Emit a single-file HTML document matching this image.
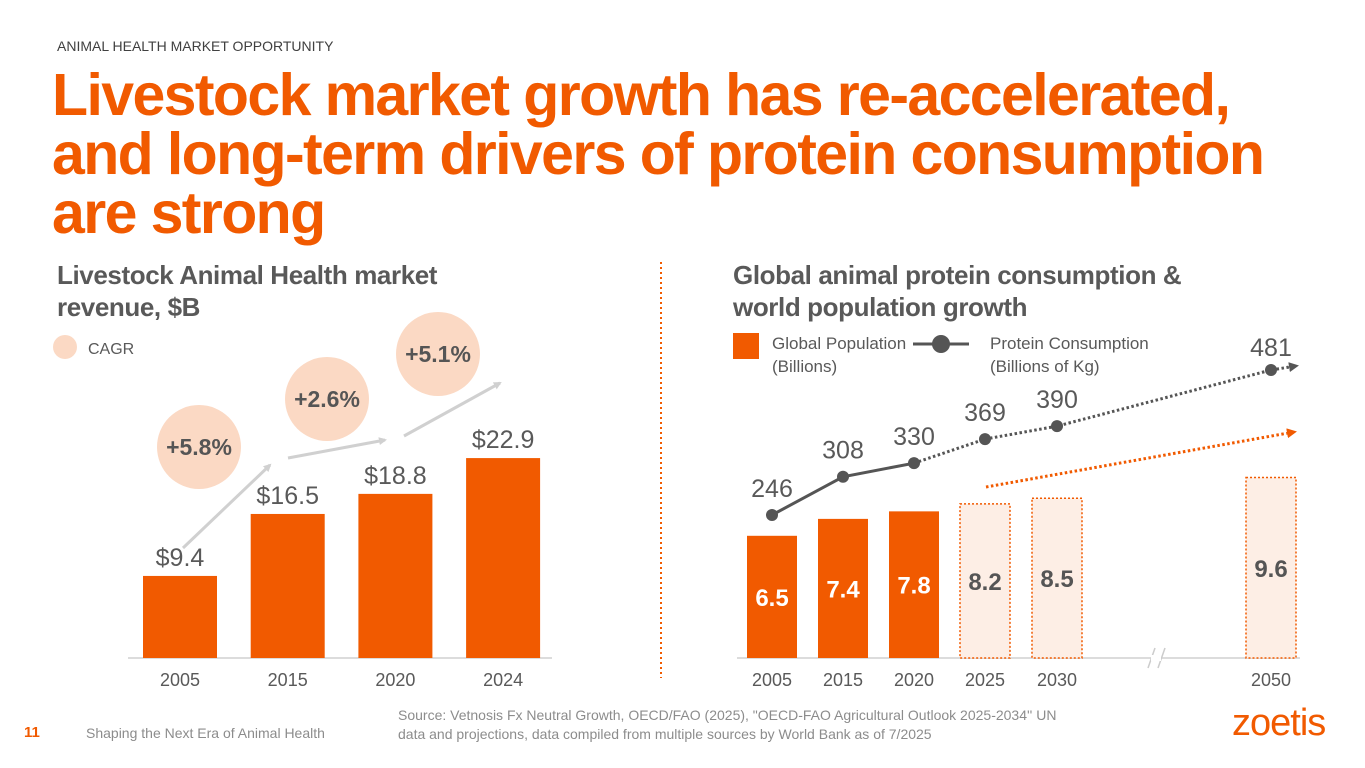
<!DOCTYPE html>
<html><head><meta charset="utf-8">
<style>
body{margin:0;width:1365px;height:768px;background:#fff;font-family:"Liberation Sans",Arial,sans-serif;position:relative;overflow:hidden}
.abs{position:absolute;white-space:nowrap}
#title{left:52px;top:66px;font-size:59px;font-weight:bold;color:#f15a00;line-height:59px;letter-spacing:-1.6px}
.sub{font-size:26px;font-weight:bold;color:#595959;line-height:32px;letter-spacing:-0.4px}
svg text{font-family:"Liberation Sans",Arial,sans-serif}
</style></head><body>
<div class="abs" style="left:57px;top:38px;font-size:14px;color:#404040">ANIMAL HEALTH MARKET OPPORTUNITY</div>
<div class="abs" id="title">Livestock market growth has re-accelerated,<br>and long-term drivers of protein consumption<br>are strong</div>
<div class="abs sub" style="left:57px;top:259px">Livestock Animal Health market<br>revenue, $B</div>
<div class="abs sub" style="left:733px;top:259px">Global animal protein consumption &amp;<br>world population growth</div>
<svg id="chart" width="1365" height="768" style="position:absolute;left:0;top:0">
<defs>
<marker id="ag" markerWidth="8" markerHeight="8" refX="6" refY="4" orient="auto" markerUnits="userSpaceOnUse"><path d="M0,0 L8,4 L0,8z" fill="#d0d0d0"/></marker>
<marker id="ad" markerWidth="10" markerHeight="10" refX="7" refY="5" orient="auto" markerUnits="userSpaceOnUse"><path d="M0,0 L10,5 L0,10z" fill="#555"/></marker>
<marker id="ao" markerWidth="10" markerHeight="10" refX="7" refY="5" orient="auto" markerUnits="userSpaceOnUse"><path d="M0,0 L10,5 L0,10z" fill="#f15a00"/></marker>
</defs>
<line x1="661" y1="262" x2="661" y2="678" stroke="#f15a00" stroke-width="2" stroke-dasharray="2,3"/>
<circle cx="65" cy="347" r="12" fill="#fbd9c4"/>
<text x="88" y="354" font-size="16" fill="#595959">CAGR</text>
<rect x="733" y="333" width="26" height="26" fill="#f15a00"/>
<text x="772" y="349" font-size="17" fill="#595959">Global Population</text>
<text x="772" y="372" font-size="17" fill="#595959">(Billions)</text>
<line x1="913" y1="344" x2="969" y2="344" stroke="#555" stroke-width="3"/>
<circle cx="941" cy="344" r="9" fill="#555"/>
<text x="990" y="349" font-size="17" fill="#595959">Protein Consumption</text>
<text x="990" y="372" font-size="17" fill="#595959">(Billions of Kg)</text>
<g id="left"></g><g id="right"></g>
</svg>
<div class="abs" style="left:24px;top:724px;font-size:15px;font-weight:bold;color:#f15a00">11</div>
<div class="abs" style="left:86px;top:725px;font-size:14px;color:#8c8c8c">Shaping the Next Era of Animal Health</div>
<div class="abs" style="left:398px;top:706px;font-size:14px;color:#8c8c8c;line-height:19px">Source: Vetnosis Fx Neutral Growth, OECD/FAO (2025), "OECD-FAO Agricultural Outlook 2025-2034'' UN<br>data and projections, data compiled from multiple sources by World Bank as of 7/2025</div>
<div class="abs" style="left:1232px;top:702px;font-size:38px;color:#f15a00;letter-spacing:-1px">zoetis</div>
<script>
const NS="http://www.w3.org/2000/svg";
const leftYears=["2005","2015","2020","2024"];
const leftValues=[9.4,16.5,18.8,22.9];
const leftLabels=["$9.4","$16.5","$18.8","$22.9"];
const cagrLabels=["+5.8%","+2.6%","+5.1%"];
const rightYears=["2005","2015","2020","2025","2030","2050"];
const popValues=[6.5,7.4,7.8,8.2,8.5,9.6];
const popLabels=["6.5","7.4","7.8","8.2","8.5","9.6"];
const protValues=[246,308,330,369,390,481];
const protLabels=["246","308","330","369","390","481"];
function mk(p,t,a,txt){const e=document.createElementNS(NS,t);for(const k in a)e.setAttribute(k,a[k]);if(txt!==undefined)e.textContent=txt;p.appendChild(e);return e;}
const L=document.getElementById('left'),R=document.getElementById('right');
const base=658;
const lx=i=>180+i*107.7, ly=v=>base-v*8.73;
mk(L,'line',{x1:128,y1:base,x2:552,y2:base,stroke:'#d0d0d0','stroke-width':1.5});
leftValues.forEach((v,i)=>{
 const r=mk(L,'rect',{x:lx(i)-37,y:ly(v),width:74,height:base-ly(v),fill:'#f15a00'});
 
 
 mk(L,'text',{x:lx(i),y:ly(v)-10,'text-anchor':'middle','font-size':25,fill:'#595959'},leftLabels[i]);
 mk(L,'text',{x:lx(i),y:686,'text-anchor':'middle','font-size':18,fill:'#595959'},leftYears[i]);
});
const cg=[[199,447],[327,399],[438,354]];
const arr=[[183,548,270,465],[288,458,385,440],[404,436,500,383]];
arr.forEach(a=>mk(L,'line',{x1:a[0],y1:a[1],x2:a[2],y2:a[3],stroke:'#d0d0d0','stroke-width':3,'marker-end':'url(#ag)'}));
cagrLabels.forEach((t,i)=>{
 const c=mk(L,'circle',{cx:cg[i][0],cy:cg[i][1],r:42,fill:'#fbd9c4'});
 
 
 mk(L,'text',{x:cg[i][0],y:cg[i][1]+8,'text-anchor':'middle','font-size':23,'font-weight':'bold',fill:'#555'},t);
});
const rxs=[772,843,914,985,1057,1271];
const rx=i=>rxs[i], ry=v=>base-v*18.8, py=v=>515-(v-246)*0.617;
mk(R,'line',{x1:737,y1:base,x2:1300,y2:base,stroke:'#d0d0d0','stroke-width':1.5});
popValues.forEach((v,i)=>{
 const proj=i>=3;
 const r=mk(R,'rect',{x:rx(i)-25,y:ry(v),width:50,height:base-ry(v),fill:proj?'#fdeee5':'#f15a00',stroke:proj?'#f15a00':'none','stroke-width':1.5,'stroke-dasharray':proj?'2,2':'none'});
 
 
 mk(R,'text',{x:rx(i),y:ry(v)+(base-ry(v))*0.5+9,'text-anchor':'middle','font-size':24,'font-weight':'bold',fill:proj?'#555':'#fff'},popLabels[i]);
 mk(R,'text',{x:rx(i),y:686,'text-anchor':'middle','font-size':18,fill:'#595959'},rightYears[i]);
});
mk(R,'line',{x1:1148,y1:668,x2:1155,y2:648,stroke:'#ccc','stroke-width':1.5});
mk(R,'line',{x1:1158,y1:668,x2:1165,y2:648,stroke:'#ccc','stroke-width':1.5});
mk(R,'rect',{x:1151,y:655,width:10,height:6,fill:'#fff'});
let solid='',dot='';
protValues.forEach((v,i)=>{ if(i<=2) solid+=(i?'L':'M')+rx(i)+','+py(v); if(i>=2) dot+=(i>2?'L':'M')+rx(i)+','+py(v);});
mk(R,'path',{d:solid,fill:'none',stroke:'#555','stroke-width':3});
mk(R,'path',{d:dot+'L1296,'+(py(protValues[5])-4),fill:'none',stroke:'#555','stroke-width':3,'stroke-dasharray':'2.5,2.5','marker-end':'url(#ad)'});
mk(R,'line',{x1:986,y1:487,x2:1294,y2:432,stroke:'#f15a00','stroke-width':3,'stroke-dasharray':'2.5,2.5','marker-end':'url(#ao)'});
protValues.forEach((v,i)=>{
 const c=mk(R,'circle',{cx:rx(i),cy:py(v),r:6,fill:'#555'});
 
 
 mk(R,'text',{x:rx(i),y:py(v)-(i==5?14:18),'text-anchor':'middle','font-size':25,fill:'#595959'},protLabels[i]);
});
</script>
</body></html>
